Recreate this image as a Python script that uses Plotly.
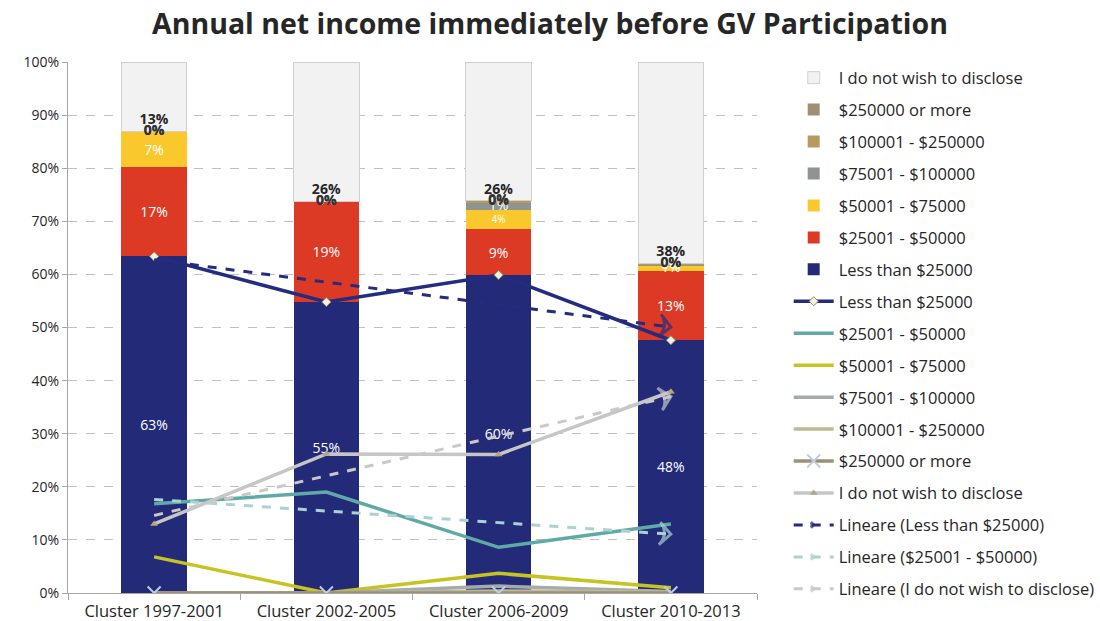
import numpy as np
import plotly.graph_objects as go

# ---------------- data ----------------
categories = ["Cluster 1997-2001", "Cluster 2002-2005", "Cluster 2006-2009", "Cluster 2010-2013"]
less_25000 = [63.4, 54.8, 59.9, 47.6]
r_25001_50000 = [16.8, 19.0, 8.6, 13.0]
r_50001_75000 = [6.8, 0.0, 3.7, 1.0]
r_75001_100000 = [0.0, 0.0, 1.3, 0.3]
r_100001_250000 = [0.0, 0.0, 0.4, 0.2]
r_250000_more = [0.0, 0.0, 0.0, 0.0]
not_disclose = [13.0, 26.2, 26.1, 37.9]
y_ticks = [0, 10, 20, 30, 40, 50, 60, 70, 80, 90, 100]
y_tick_labels = ["0%", "10%", "20%", "30%", "40%", "50%", "60%", "70%", "80%", "90%", "100%"]
title_text = "Annual net income immediately before GV Participation"

FONT = "Open Sans"
xs = list(range(len(categories)))

series = [
    # name, values, bar colour, label colour, line colour
    ("Less than $25000", less_25000, "#232A78", "white", "#232C7E"),
    ("$25001 - $50000", r_25001_50000, "#DD3A26", "white", "#5FAAA6"),
    ("$50001 - $75000", r_50001_75000, "#F9C82C", "white", "#C6C322"),
    ("$75001 - $100000", r_75001_100000, "#8E9591", "white", "#A3ABAC"),
    ("$100001 - $250000", r_100001_250000, "#B79A5C", "#333333", "#BDB995"),
    ("$250000 or more", r_250000_more, "#9F8F74", "#333333", "#9F8F74"),
    ("I do not wish to disclose", not_disclose, "#F2F2F2", "#262626", "#C6C6C6"),
]

fig = go.Figure()
n = len(series)
bases = np.zeros(len(xs))
small_labels = []
for i, (name, vals, bcol, lcol, _) in enumerate(series):
    vals_a = np.array(vals, dtype=float)
    is_nd = name.startswith("I do")
    texts = [f"{v:.0f}%" if v >= 2 else "" for v in vals]
    fig.add_trace(go.Bar(
        x=xs, y=vals, name=name, width=0.38,
        marker=dict(color=bcol, line=dict(color="#D0D0D0" if is_nd else bcol, width=1 if is_nd else 0)),
        text=texts, textposition="inside", textangle=0,
        insidetextanchor="start" if is_nd else "middle",
        textfont=dict(family=FONT, size=14, color=lcol, weight="bold" if is_nd else "normal"),
        legendrank=n - i, legendgroup=f"bar{i}", hoverinfo="skip",
    ))
    if 2 <= i <= 5:
        for j, v in enumerate(vals):
            if v < 2:
                small_labels.append((xs[j], bases[j] + v / 2, f"{v:.0f}%", lcol))
    bases = bases + vals_a

# small labels (for thin / zero segments)
for col in ["white", "#333333"]:
    pts = [p for p in small_labels if p[3] == col]
    fig.add_trace(go.Scatter(
        x=[p[0] for p in pts], y=[p[1] for p in pts], text=[p[2] for p in pts],
        mode="text", textposition="middle center", showlegend=False, hoverinfo="skip",
        textfont=dict(family=FONT, size=14, color=col, weight="bold" if col != "white" else "normal"),
    ))

# lines
for i, (name, vals, _, _, lcol) in enumerate(series):
    marker = None
    mode = "lines"
    if i == 0:
        mode = "lines+markers"
        marker = dict(symbol="diamond", size=7, color="#F4F0DA", line=dict(color="#8C8C6A", width=1))
    elif name.startswith("$250000"):
        mode = "lines+markers"
        marker = dict(symbol="x-thin-open", size=13, color="#BCD0E2", line=dict(color="#BCD0E2", width=2))
    elif name.startswith("I do"):
        mode = "lines+markers"
        marker = dict(symbol="triangle-up", size=7, color="#B5A77A")
    fig.add_trace(go.Scatter(
        x=xs, y=vals, name=name, mode=mode, marker=marker,
        line=dict(color=lcol, width=3.5),
        legendrank=10 + i, legendgroup=f"line{i}", hoverinfo="skip",
    ))

# linear trend lines
trend_specs = [
    ("Lineare (Less than $25000)", less_25000, "#232C7E"),
    ("Lineare ($25001 - $50000)", r_25001_50000, "#A9D3D1"),
    ("Lineare (I do not wish to disclose)", not_disclose, "#C9C9C9"),
]
for k, (name, vals, col) in enumerate(trend_specs):
    slope, icpt = np.polyfit(xs, vals, 1)
    ty = [slope * x + icpt for x in xs]
    sizes = [0] * (len(xs) - 1) + [16]
    fig.add_trace(go.Scatter(
        x=xs, y=ty, name=name, mode="lines+markers",
        line=dict(color=col, width=3, dash="dash"),
        marker=dict(symbol="arrow-wide-open", size=sizes, angleref="previous",
                    color=col, line=dict(color=col, width=3)),
        legendrank=30 + k, legendgroup=f"trend{k}", hoverinfo="skip",
    ))

fig.update_layout(
    width=1100, height=621,
    barmode="stack",
    paper_bgcolor="white", plot_bgcolor="white",
    margin=dict(l=68, r=343, t=62, b=28, autoexpand=False),
    font=dict(family=FONT, color="#262626"),
    title=dict(text=f"<b>{title_text}</b>", x=0.5, xref="container", xanchor="center",
               y=0.962, yref="container", yanchor="middle",
               font=dict(family=FONT, size=28.5, color="#262626")),
    legend=dict(x=1.046, y=1.003, xanchor="left", yanchor="top",
                font=dict(family=FONT, size=16.5, color="#262626"),
                tracegroupgap=7.5, itemwidth=40, bgcolor="rgba(0,0,0,0)", maxheight=800),
    showlegend=True,
)
fig.update_yaxes(
    range=[0, 100], tickvals=y_ticks, ticktext=y_tick_labels,
    showgrid=True, gridcolor="#BFBFBF", griddash="dash", gridwidth=1,
    showline=True, linecolor="#A6A6A6", ticks="outside", ticklen=5, tickcolor="#A6A6A6",
    zeroline=False, tickfont=dict(family=FONT, size=14, color="#262626"), automargin=False,
)
fig.update_xaxes(
    range=[-0.5, 3.5], tickvals=xs, ticktext=categories, ticks="",
    showgrid=False, showline=True, linecolor="#A6A6A6", zeroline=False,
    minor=dict(ticks="outside", tickvals=[-0.5, 0.5, 1.5, 2.5, 3.5], ticklen=6, tickcolor="#A6A6A6", showgrid=False),
    tickfont=dict(family=FONT, size=16.5, color="#262626"), ticklabelstandoff=3, automargin=False,
)

fig.write_html("out.html")
